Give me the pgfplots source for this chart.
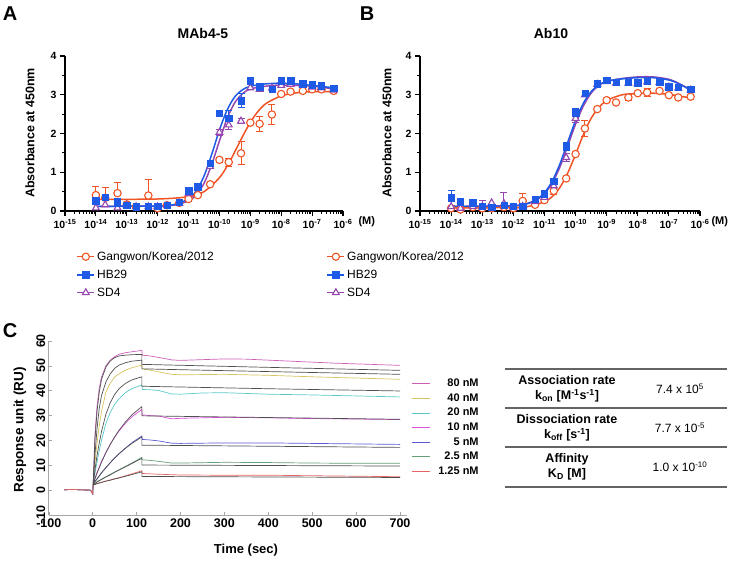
\documentclass[border=0pt]{standalone}
\usepackage{fontspec}
\setmainfont{Liberation Sans}
\usepackage{pgfplots}
\pgfplotsset{compat=1.18}
\definecolor{cor}{RGB}{240,84,36}
\definecolor{cbl}{RGB}{30,90,230}
\definecolor{cpu}{RGB}{150,70,175}
\definecolor{cA}{RGB}{205,95,185}
\definecolor{cB}{RGB}{215,195,95}
\definecolor{cC}{RGB}{90,200,200}
\definecolor{cD}{RGB}{220,80,220}
\definecolor{cE}{RGB}{90,90,210}
\definecolor{cF}{RGB}{100,160,120}
\definecolor{cG}{RGB}{230,100,100}
\definecolor{cfit}{RGB}{80,80,80}
\definecolor{rulec}{RGB}{100,100,100}
\begin{document}
\begin{tikzpicture}
\path[use as bounding box] (0pt,0pt) rectangle (731pt,-562pt);
% ---------------- Panel A ----------------
\begin{axis}[scale only axis, width=278pt, height=155pt, at={(65pt,-211pt)}, anchor=south west,
  xmode=log, xmin=1e-15, xmax=1e-6, ymin=0, ymax=4,
  axis lines=left, axis line style={line width=1.6pt,-},
  tick align=outside, major tick length=5pt, minor tick length=3pt,
  major tick style={black, line width=1.2pt},
  minor tick style={black, line width=0.8pt},
  xtick={1e-15,1e-14,1e-13,1e-12,1e-11,1e-10,1e-9,1e-8,1e-7,1e-6},
  xticklabels={{10\textsuperscript{-15}},{10\textsuperscript{-14}},{10\textsuperscript{-13}},{10\textsuperscript{-12}},{10\textsuperscript{-11}},{10\textsuperscript{-10}},{10\textsuperscript{-9}},{10\textsuperscript{-8}},{10\textsuperscript{-7}},{10\textsuperscript{-6}}},
  minor xtick={2e-15,3e-15,4e-15,5e-15,6e-15,7e-15,8e-15,9e-15,2e-14,3e-14,4e-14,5e-14,6e-14,7e-14,8e-14,9e-14,2e-13,3e-13,4e-13,5e-13,6e-13,7e-13,8e-13,9e-13,2e-12,3e-12,4e-12,5e-12,6e-12,7e-12,8e-12,9e-12,2e-11,3e-11,4e-11,5e-11,6e-11,7e-11,8e-11,9e-11,2e-10,3e-10,4e-10,5e-10,6e-10,7e-10,8e-10,9e-10,2e-9,3e-9,4e-9,5e-9,6e-9,7e-9,8e-9,9e-9,2e-8,3e-8,4e-8,5e-8,6e-8,7e-8,8e-8,9e-8,2e-7,3e-7,4e-7,5e-7,6e-7,7e-7,8e-7,9e-7},
  ytick={0,1,2,3,4}, yticklabels={0,1,2,3,4},
  minor ytick={0.5,1.5,2.5,3.5},
  tick label style={font=\fontsize{10.5}{12}\selectfont\bfseries},
  clip=false,
  legend style={draw=none, fill=none, at={(0.03,-0.235)}, anchor=north west, font=\fontsize{12}{14}\selectfont, row sep=4pt},
  legend cell align=left]
\addlegendimage{cor, line width=1.5pt, mark=*, mark options={mark size=3.6pt, line width=1.1pt, fill=white}}
\addlegendentry{Gangwon/Korea/2012}
\addlegendimage{cbl, line width=1.5pt, mark=square*, mark options={mark size=3.2pt, fill=cbl}}
\addlegendentry{HB29}
\addlegendimage{cpu, line width=1.5pt, mark=triangle*, mark options={mark size=3.9pt, line width=1.1pt, fill=white}}
\addlegendentry{SD4}
\addplot[cpu, line width=1.5pt, smooth, mark=none, forget plot] coordinates {(1e-14,0.12) (1e-12,0.13) (3.16e-12,0.15) (1e-11,0.26) (1.78e-11,0.42) (3.16e-11,0.71) (5.62e-11,1.20) (1e-10,1.81) (1.78e-10,2.39) (3.16e-10,2.80) (5.62e-10,3.03) (1e-9,3.15) (3.16e-9,3.22) (1e-8,3.25) (1e-7,3.22) (5e-7,3.15)};
\addplot[cbl, line width=1.5pt, smooth, mark=none, forget plot] coordinates {(1e-14,0.12) (1e-12,0.13) (3.16e-12,0.16) (1e-11,0.31) (1.78e-11,0.52) (3.16e-11,0.90) (5.62e-11,1.46) (1e-10,2.09) (1.78e-10,2.61) (3.16e-10,2.95) (5.62e-10,3.13) (1e-9,3.22) (3.16e-9,3.28) (1e-8,3.30) (3.16e-8,3.28) (1e-7,3.24) (5e-7,3.18)};
\addplot[cor, line width=1.5pt, smooth, mark=none, forget plot] coordinates {(1e-14,0.30) (1e-12,0.31) (1e-11,0.37) (3.16e-11,0.50) (1e-10,0.86) (2e-10,1.23) (3.98e-10,1.69) (7.94e-10,2.15) (1.58e-9,2.52) (3.16e-9,2.77) (1e-8,2.97) (3.16e-8,3.05) (1e-7,3.08) (5e-7,3.08)};
\addplot[cpu, only marks, mark=none, forget plot, error bars/.cd, y dir=both, y explicit, error bar style={line width=1pt, cpu}, error mark options={rotate=90, mark size=3.5pt, line width=1pt, cpu}] coordinates {(1e-10,2.03) +- (0,0.08) (2e-10,2.22) +- (0,0.12) (5e-10,2.32) +- (0,0.06)};
\addplot[cbl, only marks, mark=none, forget plot, error bars/.cd, y dir=both, y explicit, error bar style={line width=1pt, cbl}, error mark options={rotate=90, mark size=3.5pt, line width=1pt, cbl}] coordinates {(5e-14,0.21) +- (0,0.1) (1e-10,2.52) +- (0,0.08) (2e-10,2.39) +- (0,0.2) (5e-10,2.85) +- (0,0.18)};
\addplot[cbl, only marks, mark=none, forget plot, error bars/.cd, y dir=plus, y explicit, error bar style={line width=1pt, cbl}, error mark options={rotate=90, mark size=3.5pt, line width=1pt, cbl}] coordinates {(1e-14,0.27) +- (0,0.12) (2e-14,0.36) +- (0,0.25)};
\addplot[cor, only marks, mark=none, forget plot, error bars/.cd, y dir=plus, y explicit, error bar style={line width=1pt, cor}, error mark options={rotate=90, mark size=3.5pt, line width=1pt, cor}] coordinates {(1e-14,0.41) +- (0,0.22) (2e-14,0.34) +- (0,0.27) (5e-14,0.46) +- (0,0.28) (5e-13,0.40) +- (0,0.42)};
\addplot[cor, only marks, mark=none, forget plot, error bars/.cd, y dir=both, y explicit, error bar style={line width=1pt, cor}, error mark options={rotate=90, mark size=3.5pt, line width=1pt, cor}] coordinates {(1e-10,1.32) +- (0,0.06) (2e-10,1.26) +- (0,0.1) (5e-10,1.49) +- (0,0.3) (2e-9,2.25) +- (0,0.2) (5e-9,2.49) +- (0,0.27)};
\addplot[cor, only marks, mark=*, mark size=3.7pt, line width=1.1pt, mark options={fill=white}, forget plot] coordinates {(1e-14,0.41) (2e-14,0.34) (5e-14,0.46) (1e-13,0.17) (2e-13,0.10) (5e-13,0.40) (1e-12,0.07) (2e-12,0.15) (5e-12,0.21) (1e-11,0.31) (2e-11,0.41) (5e-11,0.69) (1e-10,1.32) (2e-10,1.26) (5e-10,1.49) (1e-9,2.28) (2e-9,2.25) (5e-9,2.49) (1e-8,3.02) (2e-8,3.08) (5e-8,3.10) (1e-7,3.14) (2e-7,3.14) (5e-7,3.10)};
\addplot[cpu, only marks, mark=triangle*, mark size=3.9pt, line width=1.1pt, mark options={fill=white}, forget plot] coordinates {(1e-14,0.08) (2e-14,0.16) (5e-14,0.08) (1e-13,0.15) (2e-13,0.11) (5e-13,0.11) (1e-12,0.11) (2e-12,0.14) (5e-12,0.20) (1e-11,0.45) (2e-11,0.60) (5e-11,1.15) (1e-10,2.03) (2e-10,2.22) (5e-10,2.32) (1e-9,3.18) (2e-9,3.14) (5e-9,3.17) (1e-8,3.24) (2e-8,3.27) (5e-8,3.25) (1e-7,3.20) (2e-7,3.18) (5e-7,3.12)};
\addplot[cbl, only marks, mark=square*, mark size=3.2pt, mark options={fill=cbl}, forget plot] coordinates {(1e-14,0.27) (2e-14,0.36) (5e-14,0.21) (1e-13,0.15) (2e-13,0.11) (5e-13,0.12) (1e-12,0.13) (2e-12,0.15) (5e-12,0.22) (1e-11,0.52) (2e-11,0.63) (5e-11,1.23) (1e-10,2.52) (2e-10,2.39) (5e-10,2.85) (1e-9,3.36) (2e-9,3.21) (5e-9,3.14) (1e-8,3.36) (2e-8,3.36) (5e-8,3.29) (1e-7,3.26) (2e-7,3.23) (5e-7,3.17)};
\end{axis}
% ---------------- Panel B ----------------
\begin{axis}[scale only axis, width=280pt, height=155pt, at={(420pt,-211pt)}, anchor=south west,
  xmode=log, xmin=1e-15, xmax=1e-6, ymin=0, ymax=4,
  axis lines=left, axis line style={line width=1.6pt,-},
  tick align=outside, major tick length=5pt, minor tick length=3pt,
  major tick style={black, line width=1.2pt},
  minor tick style={black, line width=0.8pt},
  xtick={1e-15,1e-14,1e-13,1e-12,1e-11,1e-10,1e-9,1e-8,1e-7,1e-6},
  xticklabels={{10\textsuperscript{-15}},{10\textsuperscript{-14}},{10\textsuperscript{-13}},{10\textsuperscript{-12}},{10\textsuperscript{-11}},{10\textsuperscript{-10}},{10\textsuperscript{-9}},{10\textsuperscript{-8}},{10\textsuperscript{-7}},{10\textsuperscript{-6}}},
  minor xtick={2e-15,3e-15,4e-15,5e-15,6e-15,7e-15,8e-15,9e-15,2e-14,3e-14,4e-14,5e-14,6e-14,7e-14,8e-14,9e-14,2e-13,3e-13,4e-13,5e-13,6e-13,7e-13,8e-13,9e-13,2e-12,3e-12,4e-12,5e-12,6e-12,7e-12,8e-12,9e-12,2e-11,3e-11,4e-11,5e-11,6e-11,7e-11,8e-11,9e-11,2e-10,3e-10,4e-10,5e-10,6e-10,7e-10,8e-10,9e-10,2e-9,3e-9,4e-9,5e-9,6e-9,7e-9,8e-9,9e-9,2e-8,3e-8,4e-8,5e-8,6e-8,7e-8,8e-8,9e-8,2e-7,3e-7,4e-7,5e-7,6e-7,7e-7,8e-7,9e-7},
  ytick={0,1,2,3,4}, yticklabels={0,1,2,3,4},
  minor ytick={0.5,1.5,2.5,3.5},
  tick label style={font=\fontsize{10.5}{12}\selectfont\bfseries},
  clip=false,
  legend style={draw=none, fill=none, at={(-0.345,-0.235)}, anchor=north west, font=\fontsize{12}{14}\selectfont, row sep=4pt},
  legend cell align=left]
\addlegendimage{cor, line width=1.5pt, mark=*, mark options={mark size=3.6pt, line width=1.1pt, fill=white}}
\addlegendentry{Gangwon/Korea/2012}
\addlegendimage{cbl, line width=1.5pt, mark=square*, mark options={mark size=3.2pt, fill=cbl}}
\addlegendentry{HB29}
\addlegendimage{cpu, line width=1.5pt, mark=triangle*, mark options={mark size=3.9pt, line width=1.1pt, fill=white}}
\addlegendentry{SD4}
\addplot[cpu, line width=1.5pt, smooth, mark=none, forget plot] coordinates {(1e-14,0.12) (1e-12,0.14) (3.16e-12,0.21) (5.62e-12,0.29) (1e-11,0.45) (1.78e-11,0.72) (3.16e-11,1.14) (5.62e-11,1.68) (1e-10,2.24) (1.78e-10,2.71) (3.16e-10,3.04) (5.62e-10,3.24) (1e-9,3.34) (3.16e-9,3.42) (1e-8,3.46) (3.16e-8,3.46) (1e-7,3.40) (2e-7,3.30) (5e-7,3.13)};
\addplot[cbl, line width=1.5pt, smooth, mark=none, forget plot] coordinates {(1e-14,0.12) (1e-12,0.13) (3.16e-12,0.20) (5.62e-12,0.30) (1e-11,0.47) (1.78e-11,0.77) (3.16e-11,1.22) (5.62e-11,1.78) (1e-10,2.33) (1.78e-10,2.78) (3.16e-10,3.08) (5.62e-10,3.25) (1e-9,3.35) (3.16e-9,3.41) (1e-8,3.44) (3.16e-8,3.44) (1e-7,3.38) (2e-7,3.29) (5e-7,3.12)};
\addplot[cor, line width=1.5pt, smooth, mark=none, forget plot] coordinates {(1e-14,0.08) (1e-12,0.09) (3.16e-12,0.12) (1e-11,0.24) (1.78e-11,0.37) (3.16e-11,0.61) (5.62e-11,0.98) (1e-10,1.46) (1.78e-10,1.97) (3.16e-10,2.39) (5.62e-10,2.67) (1e-9,2.85) (3.16e-9,3.00) (1e-8,3.03) (3.16e-8,3.04) (1e-7,3.01) (2e-7,2.97) (5e-7,2.92)};
\addplot[cpu, only marks, mark=none, forget plot, error bars/.cd, y dir=plus, y explicit, error bar style={line width=1pt, cpu}, error mark options={rotate=90, mark size=3.5pt, line width=1pt, cpu}] coordinates {(1e-13,0.11) +- (0,0.15) (5e-13,0.19) +- (0,0.3)};
\addplot[cpu, only marks, mark=none, forget plot, error bars/.cd, y dir=both, y explicit, error bar style={line width=1pt, cpu}, error mark options={rotate=90, mark size=3.5pt, line width=1pt, cpu}] coordinates {(5e-11,1.38) +- (0,0.1) (1e-10,2.39) +- (0,0.1)};
\addplot[cbl, only marks, mark=none, forget plot, error bars/.cd, y dir=both, y explicit, error bar style={line width=1pt, cbl}, error mark options={rotate=90, mark size=3.5pt, line width=1pt, cbl}] coordinates {(1e-14,0.34) +- (0,0.2) (5e-11,1.66) +- (0,0.1) (1e-10,2.54) +- (0,0.1)};
\addplot[cor, only marks, mark=none, forget plot, error bars/.cd, y dir=both, y explicit, error bar style={line width=1pt, cor}, error mark options={rotate=90, mark size=3.5pt, line width=1pt, cor}] coordinates {(2e-12,0.26) +- (0,0.2) (2e-11,0.52) +- (0,0.1) (2e-10,2.13) +- (0,0.2) (5e-9,2.93) +- (0,0.08) (2e-8,3.06) +- (0,0.1)};
\addplot[cor, only marks, mark=*, mark size=3.7pt, line width=1.1pt, mark options={fill=white}, forget plot] coordinates {(1e-14,0.07) (2e-14,0.04) (5e-14,0.10) (1e-13,0.07) (2e-13,0.07) (5e-13,0.10) (1e-12,0.07) (2e-12,0.26) (5e-12,0.16) (1e-11,0.28) (2e-11,0.52) (5e-11,0.84) (1e-10,1.47) (2e-10,2.13) (5e-10,2.63) (1e-9,2.86) (2e-9,2.80) (5e-9,2.93) (1e-8,3.04) (2e-8,3.06) (5e-8,3.10) (1e-7,2.99) (2e-7,2.93) (5e-7,2.95)};
\addplot[cpu, only marks, mark=triangle*, mark size=3.9pt, line width=1.1pt, mark options={fill=white}, forget plot] coordinates {(1e-14,0.11) (2e-14,0.07) (5e-14,0.12) (1e-13,0.11) (2e-13,0.21) (5e-13,0.19) (1e-12,0.09) (2e-12,0.12) (5e-12,0.24) (1e-11,0.35) (2e-11,0.65) (5e-11,1.38) (1e-10,2.39) (2e-10,3.0) (5e-10,3.27) (1e-9,3.34) (2e-9,3.30) (5e-9,3.30) (1e-8,3.30) (2e-8,3.33) (5e-8,3.32) (1e-7,3.20) (2e-7,3.17) (5e-7,3.12)};
\addplot[cbl, only marks, mark=square*, mark size=3.2pt, mark options={fill=cbl}, forget plot] coordinates {(1e-14,0.34) (2e-14,0.24) (5e-14,0.21) (1e-13,0.12) (2e-13,0.10) (5e-13,0.15) (1e-12,0.12) (2e-12,0.12) (5e-12,0.31) (1e-11,0.45) (2e-11,0.77) (5e-11,1.66) (1e-10,2.54) (2e-10,3.04) (5e-10,3.29) (1e-9,3.38) (2e-9,3.32) (5e-9,3.32) (1e-8,3.31) (2e-8,3.35) (5e-8,3.34) (1e-7,3.21) (2e-7,3.19) (5e-7,3.14)};
\end{axis}
% ---------------- Panel C ----------------
\begin{axis}[scale only axis, width=357.8pt, height=174pt, at={(48.8pt,-515pt)}, anchor=south west,
  xmin=-100, xmax=715, ymin=-10, ymax=60,
  axis lines=left, axis line style={draw=gray!70, line width=0.8pt, -},
  tick align=inside, major tick length=3pt, major tick style={gray!70, line width=0.6pt},
  xtick={-100,0,100,200,300,400,500,600,700}, xticklabels={-100,0,100,200,300,400,500,600,700},
  ytick={-10,0,10,20,30,40,50,60}, yticklabels={-10,0,10,20,30,40,50,60},
  tick label style={font=\fontsize{12.5}{14}\selectfont\bfseries},
  yticklabel style={rotate=90, anchor=south},
  legend style={draw=none, fill=none, at={(1.005,0.805)}, anchor=north west, font=\fontsize{11}{12}\selectfont\bfseries, row sep=1.4pt, column sep=6pt},
  legend cell align=right,
  legend image code/.code={\draw[#1, line width=0.7pt] (0pt,0pt) -- (18pt,0pt);},
]
\addplot[cA, line width=0.7pt, mark=none] coordinates {(-65,0.1) (-50,0.3) (-35,0.2) (-20,0.1) (-5,0) (0,-1.5) (1,2) (5,22) (10,34) (15,41) (20,45.5) (30,50) (40,52.3) (50,53.7) (60,54.6) (75,55.3) (90,55.7) (112,56.2) (113,54.3) (130,54.0) (150,53.4) (180,52.4) (200,52.2) (250,52.5) (300,52.8) (350,52.7) (400,52.3) (450,51.9) (500,51.5) (550,51.1) (600,50.8) (650,50.5) (700,50.2)};
\addlegendentry{80 nM}
\addplot[cB, line width=0.7pt, mark=none] coordinates {(-65,0.1) (-50,0.3) (-35,0.2) (-20,0.1) (-5,0) (0,-1.5) (1,2) (5,11) (10,19) (15,26) (20,31.5) (30,39.5) (40,43) (50,45.5) (60,46.8) (75,48.3) (90,49.3) (112,50.3) (113,48.8) (130,48.3) (150,47.6) (180,46.6) (200,46.4) (250,46.5) (300,46.6) (400,46.2) (500,45.6) (600,45.1) (700,44.6)};
\addlegendentry{40 nM}
\addplot[cC, line width=0.7pt, mark=none] coordinates {(-65,0.1) (-50,0.3) (-35,0.2) (-20,0.1) (-5,0) (0,-1.5) (1,2) (5,6.5) (10,11.5) (15,16) (20,20) (30,26.8) (40,31.3) (50,34.5) (60,36.8) (75,39.3) (90,40.9) (112,42.3) (113,40.5) (130,40.4) (150,40.1) (180,38.7) (200,38.6) (250,39.1) (300,39.2) (400,38.6) (500,38.3) (600,37.9) (700,37.5)};
\addlegendentry{20 nM}
\addplot[cD, line width=0.7pt, mark=none] coordinates {(-65,0.1) (-50,0.3) (-35,0.2) (-20,0.1) (-5,0) (0,-1.5) (1,2) (5,4.5) (10,7.2) (20,11.5) (30,15.2) (40,18.5) (50,21.3) (60,23.8) (75,27) (90,29.6) (112,32.5) (113,30.3) (130,30.0) (150,29.8) (180,28.7) (200,28.9) (300,29.3) (400,29.1) (500,28.8) (600,28.6) (700,28.4)};
\addlegendentry{10 nM}
\addplot[cE, line width=0.7pt, mark=none] coordinates {(-65,0.1) (-50,0.3) (-35,0.2) (-20,0.1) (-5,0) (0,-1.5) (1,2) (5,3.5) (10,4.6) (20,7.0) (30,9.1) (40,11.1) (50,13.0) (60,14.7) (75,17.0) (90,19.2) (112,21.8) (113,20.4) (130,20.2) (150,19.8) (180,18.9) (200,18.8) (300,19.0) (400,19.0) (500,18.8) (600,18.6) (700,18.4)};
\addlegendentry{5 nM}
\addplot[cF, line width=0.7pt, mark=none] coordinates {(-65,0.1) (-50,0.3) (-35,0.2) (-20,0.1) (-5,0) (0,-1.5) (1,2) (10,3.4) (20,4.4) (30,5.4) (40,6.3) (50,7.3) (60,8.2) (75,9.6) (90,11.0) (112,13.2) (113,12.2) (130,12.0) (150,11.6) (180,10.9) (200,10.9) (300,11.2) (400,11.1) (500,10.9) (600,10.8) (700,10.8)};
\addlegendentry{2.5 nM}
\addplot[cG, line width=0.7pt, mark=none] coordinates {(-65,0.1) (-50,0.3) (-35,0.2) (-20,0.1) (-5,0) (0,-1.5) (1,2) (10,2.7) (20,3.2) (30,3.7) (40,4.1) (50,4.6) (60,5.0) (75,5.8) (90,6.6) (112,7.8) (113,6.7) (150,6.4) (200,6.1) (300,6.0) (400,6.0) (500,5.8) (600,5.6) (700,5.4)};
\addlegendentry{1.25 nM}
\addplot[cfit, line width=0.7pt, mark=none, forget plot] coordinates {(1,2) (5,20) (10,32) (15,39.5) (20,44.5) (30,49.5) (40,52) (50,53.3) (60,54) (75,54.3) (90,54.5) (112,54.6) (112,50.6) (400,49.4) (700,48.2)};
\addplot[cfit, line width=0.7pt, mark=none, forget plot] coordinates {(1,2) (5,14) (10,25) (15,33) (20,38) (30,43.5) (40,46.8) (50,49) (60,50.3) (75,51.3) (90,51.9) (112,52.3) (112,48.8) (400,47.7) (700,46.6)};
\addplot[cfit, line width=0.7pt, mark=none, forget plot] coordinates {(1,2) (5,8) (10,14) (15,19) (20,23.5) (30,30.5) (40,35.2) (50,38.5) (60,40.8) (75,43) (90,44.4) (112,45.6) (112,41.8) (400,40.8) (700,39.9)};
\addplot[cfit, line width=0.7pt, mark=none, forget plot] coordinates {(1,2) (5,4.5) (10,6.9) (20,11.2) (30,15) (40,18.4) (50,21.4) (60,24.1) (75,27.5) (90,30.4) (112,33.6) (112,29.9) (700,28.5)};
\addplot[cfit, line width=0.7pt, mark=none, forget plot] coordinates {(1,2) (5,3.4) (10,4.5) (20,6.9) (30,9.0) (40,11.0) (50,12.9) (60,14.6) (75,16.9) (90,18.9) (112,21.4) (112,18.1) (700,17.2)};
\addplot[cfit, line width=0.7pt, mark=none, forget plot] coordinates {(1,2) (10,3.3) (20,4.3) (30,5.3) (40,6.2) (50,7.2) (60,8.1) (75,9.4) (90,10.8) (112,12.8) (112,10.1) (700,9.7)};
\addplot[cfit, line width=0.7pt, mark=none, forget plot] coordinates {(1,2) (10,2.6) (20,3.1) (30,3.6) (40,4.0) (50,4.5) (60,4.9) (75,5.6) (90,6.3) (112,7.4) (112,5.5) (700,5.1)};
\end{axis}
% ---------------- Texts ----------------
\node[font=\fontsize{20}{22}\selectfont\bfseries] at (10pt,-14pt) {A};
\node[font=\fontsize{20}{22}\selectfont\bfseries] at (367pt,-14pt) {B};
\node[font=\fontsize{20}{22}\selectfont\bfseries] at (10pt,-331pt) {C};
\node[font=\fontsize{14}{16}\selectfont\bfseries] at (203pt,-33pt) {MAb4-5};
\node[font=\fontsize{14}{16}\selectfont\bfseries] at (551pt,-33pt) {Ab10};
\node[font=\fontsize{12.5}{14}\selectfont\bfseries, rotate=90] at (30pt,-133pt) {Absorbance at 450nm};
\node[font=\fontsize{12.5}{14}\selectfont\bfseries, rotate=90] at (387pt,-133pt) {Absorbance at 450nm};
\node[font=\fontsize{11}{13}\selectfont\bfseries, anchor=west] at (355pt,-222pt) {(M)};
\node[font=\fontsize{11}{13}\selectfont\bfseries, anchor=west] at (708pt,-222pt) {(M)};
\node[font=\fontsize{13}{15}\selectfont\bfseries] at (246pt,-550pt) {Time (sec)};
\node[font=\fontsize{13.5}{15}\selectfont\bfseries, rotate=90] at (20pt,-430pt) {Response unit (RU)};
% table
\draw[rulec, line width=1.6pt] (505pt,-369pt) -- (727pt,-369pt);
\draw[rulec, line width=1.6pt] (505pt,-408pt) -- (727pt,-408pt);
\draw[rulec, line width=1.6pt] (505pt,-447pt) -- (727pt,-447pt);
\draw[rulec, line width=1.6pt] (505pt,-487pt) -- (727pt,-487pt);
\node[font=\fontsize{12.5}{15}\selectfont\bfseries, align=center] at (567pt,-389pt) {Association rate\\k\textsubscript{on} [M\textsuperscript{-1}s\textsuperscript{-1}]};
\node[font=\fontsize{12.5}{15}\selectfont\bfseries, align=center] at (567pt,-428pt) {Dissociation rate\\k\textsubscript{off} [s\textsuperscript{-1}]};
\node[font=\fontsize{12.5}{15}\selectfont\bfseries, align=center] at (567pt,-467pt) {Affinity\\K\textsubscript{D} [M]};
\node[font=\fontsize{12}{14}\selectfont] at (680pt,-389pt) {7.4 x 10\textsuperscript{5}};
\node[font=\fontsize{12}{14}\selectfont] at (680pt,-428pt) {7.7 x 10\textsuperscript{-5}};
\node[font=\fontsize{12}{14}\selectfont] at (680pt,-467pt) {1.0 x 10\textsuperscript{-10}};
\end{tikzpicture}
\end{document}
